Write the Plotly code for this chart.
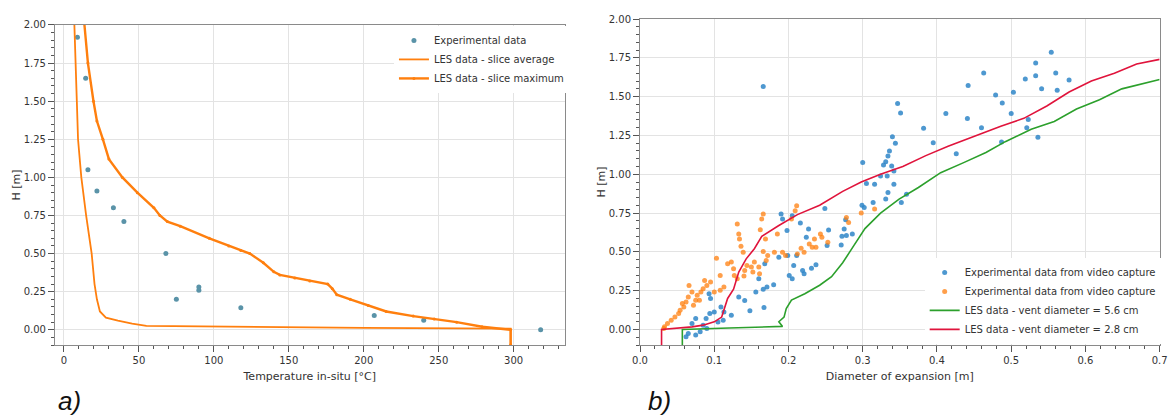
import plotly.graph_objects as go

# ---------------- Panel a) data ----------------
exp_T = [9, 14.5, 16, 22, 33, 40, 68, 75, 90, 90, 118, 207, 240, 318]
exp_H = [1.92, 1.65, 1.05, 0.91, 0.80, 0.71, 0.50, 0.20, 0.26, 0.28, 0.145, 0.094, 0.063, 0.00]

avg_T = [6.9, 7.6, 8.6, 9.4, 11.6, 14.8, 17.0, 18.5, 20.4, 22.0, 24.0, 28.0, 36.0, 45.5, 55.0, 100, 200, 298, 298]
avg_H = [2.02, 1.75, 1.50, 1.25, 1.00, 0.75, 0.60, 0.50, 0.30, 0.20, 0.12, 0.08, 0.06, 0.04, 0.025, 0.02, 0.012, 0.008, -0.10]

max_T = [13.5, 16, 19.7, 22, 26, 30, 39, 49, 60, 64, 69, 77.6, 97, 110, 118, 124, 133, 140, 144, 154,
         164, 176, 179, 182, 191, 203, 215, 233, 247, 262, 279, 298, 298]
max_H = [2.02, 1.75, 1.50, 1.37, 1.25, 1.12, 1.00, 0.90, 0.80, 0.75, 0.71, 0.68, 0.60, 0.55, 0.52, 0.50,
         0.44, 0.38, 0.36, 0.34, 0.32, 0.30, 0.27, 0.23, 0.20, 0.16, 0.12, 0.09, 0.07, 0.05, 0.02, 0.00, -0.10]

# ---------------- Panel b) data ----------------
blue_D = [0.166, 0.554, 0.533, 0.533, 0.560, 0.463, 0.442, 0.541, 0.562, 0.578, 0.519, 0.503, 0.479, 0.488,
          0.500, 0.412, 0.441, 0.460, 0.521, 0.523, 0.536, 0.382, 0.395, 0.426, 0.487, 0.347, 0.351, 0.340,
          0.344, 0.336, 0.334, 0.331, 0.328, 0.339, 0.342, 0.333, 0.342, 0.334, 0.331, 0.352, 0.359, 0.300,
          0.305, 0.316, 0.324, 0.299, 0.302, 0.314, 0.277, 0.275, 0.278, 0.286, 0.272, 0.271, 0.249, 0.254,
          0.252, 0.237, 0.231, 0.224, 0.227, 0.216, 0.205, 0.190, 0.192, 0.198, 0.211, 0.207, 0.201, 0.205,
          0.219, 0.221, 0.199, 0.187, 0.168, 0.160, 0.156, 0.166, 0.171, 0.180, 0.167, 0.148, 0.141, 0.133,
          0.123, 0.112, 0.109, 0.095, 0.093, 0.100, 0.089, 0.085, 0.075, 0.070, 0.065, 0.062, 0.075, 0.081,
          0.090, 0.105, 0.094, 0.113]
blue_H = [1.566, 1.786, 1.716, 1.635, 1.652, 1.652, 1.571, 1.551, 1.541, 1.607, 1.613, 1.528, 1.511, 1.459,
          1.391, 1.391, 1.359, 1.299, 1.299, 1.353, 1.239, 1.297, 1.203, 1.132, 1.207, 1.455, 1.395, 1.241,
          1.199, 1.150, 1.118, 1.081, 1.060, 1.053, 1.021, 0.989, 0.936, 0.882, 0.840, 0.818, 0.872, 1.075,
          0.940, 0.936, 0.989, 0.801, 0.786, 0.818, 0.707, 0.647, 0.605, 0.615, 0.600, 0.545, 0.780, 0.641,
          0.541, 0.417, 0.395, 0.594, 0.647, 0.686, 0.733, 0.744, 0.712, 0.637, 0.476, 0.412, 0.348, 0.327,
          0.380, 0.359, 0.476, 0.466, 0.423, 0.327, 0.241, 0.259, 0.274, 0.288, 0.141, 0.120, 0.186, 0.209,
          0.092, 0.060, 0.145, 0.199, 0.231, 0.113, 0.071, 0.028, 0.071, 0.038, -0.026, -0.047, -0.036, -0.015,
          0.006, 0.049, 0.103, 0.113]

orange_D = [0.166, 0.164, 0.162, 0.169, 0.131, 0.133, 0.134, 0.136, 0.139, 0.103, 0.108, 0.118, 0.123, 0.126,
            0.127, 0.131, 0.140, 0.144, 0.150, 0.154, 0.160, 0.161, 0.166, 0.172, 0.170, 0.087, 0.090, 0.095,
            0.085, 0.082, 0.077, 0.075, 0.070, 0.066, 0.065, 0.062, 0.059, 0.054, 0.052, 0.047, 0.042, 0.037,
            0.033, 0.032, 0.057, 0.072, 0.080, 0.100, 0.108, 0.113, 0.152, 0.141, 0.211, 0.209, 0.204, 0.217,
            0.212, 0.221, 0.196, 0.192, 0.228, 0.235, 0.232, 0.243, 0.245, 0.237, 0.253, 0.278, 0.281, 0.298,
            0.316, 0.185, 0.181]
orange_H = [0.744, 0.712, 0.643, 0.583, 0.679, 0.615, 0.583, 0.536, 0.498, 0.459, 0.348, 0.423, 0.434, 0.391,
            0.348, 0.327, 0.344, 0.412, 0.402, 0.434, 0.402, 0.359, 0.502, 0.476, 0.444, 0.316, 0.284, 0.306,
            0.263, 0.241, 0.220, 0.188, 0.241, 0.284, 0.209, 0.177, 0.145, 0.124, 0.103, 0.081, 0.060, 0.038,
            0.017, 0.006, 0.167, 0.156, 0.188, 0.241, 0.252, 0.274, 0.370, 0.380, 0.797, 0.765, 0.712, 0.524,
            0.487, 0.498, 0.476, 0.498, 0.551, 0.583, 0.530, 0.615, 0.594, 0.530, 0.562, 0.722, 0.690, 0.750,
            0.776, 0.615, 0.498]

green_D = [0.057, 0.057, 0.120, 0.192, 0.187, 0.194, 0.197, 0.204, 0.222, 0.242, 0.258, 0.273, 0.288, 0.303,
           0.324, 0.349, 0.375, 0.405, 0.436, 0.466, 0.492, 0.527, 0.558, 0.588, 0.619, 0.649, 0.700]
green_H = [-0.10, 0.00, 0.01, 0.02, 0.05, 0.08, 0.135, 0.19, 0.23, 0.285, 0.34, 0.43, 0.54, 0.65,
           0.75, 0.84, 0.915, 1.01, 1.075, 1.14, 1.21, 1.29, 1.34, 1.42, 1.48, 1.55, 1.61]

red_D = [0.029, 0.029, 0.070, 0.085, 0.100, 0.110, 0.118, 0.126, 0.133, 0.143, 0.154, 0.164, 0.187, 0.212,
         0.242, 0.273, 0.298, 0.324, 0.354, 0.385, 0.415, 0.451, 0.486, 0.517, 0.548, 0.578, 0.608, 0.639,
         0.669, 0.700]
red_H = [-0.10, 0.00, 0.017, 0.028, 0.049, 0.08, 0.20, 0.26, 0.37, 0.455, 0.52, 0.60, 0.67, 0.74,
         0.80, 0.89, 0.95, 1.00, 1.05, 1.12, 1.18, 1.245, 1.31, 1.36, 1.44, 1.53, 1.60, 1.65, 1.71, 1.74]

FONT = "DejaVu Sans"
ORANGE = "#ff7f0e"

fig = go.Figure()

# panel a
fig.add_trace(go.Scatter(x=exp_T, y=exp_H, mode="markers", name="Experimental data",
                         marker=dict(color="#5a93a8", size=5), xaxis="x", yaxis="y", legend="legend"))
fig.add_trace(go.Scatter(x=avg_T, y=avg_H, mode="lines", name="LES data - slice average",
                         line=dict(color=ORANGE, width=1.8), xaxis="x", yaxis="y", legend="legend"))
fig.add_trace(go.Scatter(x=max_T, y=max_H, mode="lines+markers", name="LES data - slice maximum",
                         line=dict(color=ORANGE, width=2.4), marker=dict(color=ORANGE, size=3),
                         xaxis="x", yaxis="y", legend="legend"))

# panel b
fig.add_trace(go.Scatter(x=blue_D, y=blue_H, mode="markers", name="Experimental data from video capture",
                         marker=dict(color="#2f86c8", size=5, opacity=0.85), xaxis="x2", yaxis="y2", legend="legend2"))
fig.add_trace(go.Scatter(x=orange_D, y=orange_H, mode="markers", name="Experimental data from video capture",
                         marker=dict(color=ORANGE, size=5, opacity=0.75), xaxis="x2", yaxis="y2", legend="legend2"))
fig.add_trace(go.Scatter(x=green_D, y=green_H, mode="lines", name="LES data - vent diameter = 5.6 cm",
                         line=dict(color="#2ca02c", width=1.6), xaxis="x2", yaxis="y2", legend="legend2"))
fig.add_trace(go.Scatter(x=red_D, y=red_H, mode="lines", name="LES data - vent diameter = 2.8 cm",
                         line=dict(color="#e0143c", width=1.6), xaxis="x2", yaxis="y2", legend="legend2"))

axis_common = dict(showline=True, linecolor="#8a8a8a", linewidth=1, mirror=True,
                   showgrid=True, gridcolor="#e3e3e3", gridwidth=1, zeroline=False, automargin=False,
                   ticks="outside", ticklen=6, tickcolor="#555", tickfont=dict(size=10, color="#333"),
                   title_font=dict(size=11, color="#333"))
minor_common = dict(ticks="outside", ticklen=3, tickcolor="#555", showgrid=False)

fig.update_layout(
    width=1169, height=418, margin=dict(l=0, r=0, t=0, b=0),
    paper_bgcolor="white", plot_bgcolor="white",
    font=dict(family=FONT, size=10, color="#333"),
    xaxis=dict(axis_common, domain=[0.047, 0.483], range=[-6, 334], dtick=50, anchor="y",
               title=dict(text="Temperature in-situ [°C]", standoff=7),
               minor=dict(minor_common, dtick=10)),
    yaxis=dict(axis_common, domain=[0.1746, 0.9402], range=[-0.1, 2.0], dtick=0.25, tickformat=".2f",
               anchor="x", title=dict(text="H [m]", standoff=0),
               minor=dict(minor_common, dtick=0.05)),
    xaxis2=dict(axis_common, domain=[0.5475, 0.992], range=[0, 0.7], dtick=0.1, tickformat=".1f", anchor="y2",
                title=dict(text="Diameter of expansion [m]", standoff=7),
                minor=dict(minor_common, dtick=0.02)),
    yaxis2=dict(axis_common, domain=[0.1746, 0.9545], range=[-0.1, 2.0], dtick=0.25, tickformat=".2f",
                anchor="x2", title=dict(text="H [m]", standoff=0),
                minor=dict(minor_common, dtick=0.05)),
    legend=dict(x=0.337, y=0.938, xanchor="left", yanchor="top", bgcolor="white",
                font=dict(size=10, color="#333"), tracegroupgap=0),
    legend2=dict(x=0.791, y=0.383, xanchor="left", yanchor="top", bgcolor="white",
                 font=dict(size=10, color="#333"), tracegroupgap=0),
    annotations=[
        dict(text="<i>a)</i>", x=69 / 1169, y=0, xref="paper", yref="paper",
             xanchor="center", yanchor="bottom",
             showarrow=False, font=dict(size=26, family="Liberation Sans", color="#111")),
        dict(text="<i>b)</i>", x=659 / 1169, y=0, xref="paper", yref="paper",
             xanchor="center", yanchor="bottom",
             showarrow=False, font=dict(size=26, family="Liberation Sans", color="#111")),
    ],
)

fig.write_html("out.html")
